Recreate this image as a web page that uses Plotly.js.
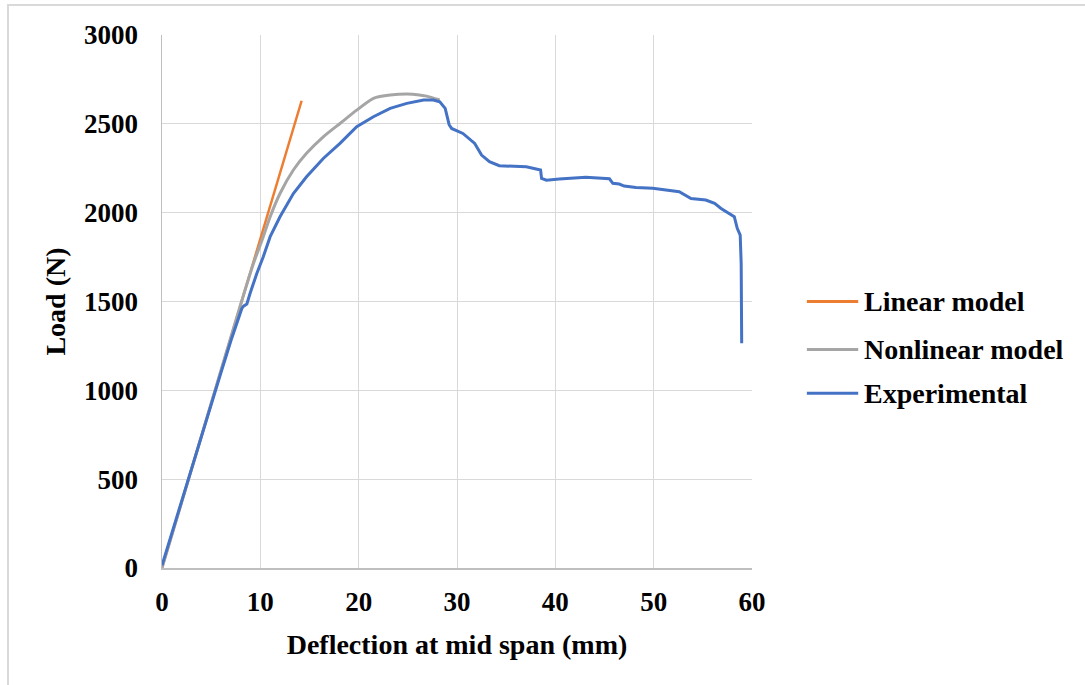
<!DOCTYPE html>
<html>
<head>
<meta charset="utf-8">
<script src="https://cdn.plot.ly/plotly-3.0.1.min.js"></script>
<style>
  html, body { margin: 0; padding: 0; background: #fff; }
  #chart { width: 1085px; height: 685px; }
  #frame { position: absolute; left: 7px; top: 4px; width: 1200px; height: 800px;
           border-left: 2px solid #d9d9d9; border-top: 2px solid #d9d9d9; pointer-events: none; z-index: 10; }
</style>
</head>
<body>
<div id="frame"></div>
<div id="chart"></div>
<script>
// Linear model
const linX = [0, 14.2];
const linY = [0, 2630];

// Nonlinear model
const nlX = [0, 4, 7.95, 9.3, 10.3, 11.0, 12.0, 13.36, 14.7, 16.4, 18.1, 19.8, 21.5, 23.2, 25.5, 26.9, 28.25];
const nlY = [0, 740, 1475, 1714, 1865, 1977, 2108, 2240, 2334, 2427, 2502, 2577, 2643, 2662, 2667, 2656, 2634];

// Experimental
const expX = [0, 2, 4, 6, 7.1, 8.12, 8.29, 8.63, 8.96, 9.64, 10.3, 11.0, 12.0, 13.36, 14.7, 16.4, 18.1, 19.8, 21.5, 23.2, 24.9, 26.6, 27.6, 28.25, 28.8, 29.0, 29.2, 29.45, 30.6, 31.8, 32.5, 33.3, 34.3, 37.05, 37.9, 38.5, 38.6, 39.1, 40.4, 43.1, 45.5, 45.85, 46.5, 47.0, 48.2, 49.9, 52.6, 53.8, 55.3, 56.2, 56.85, 57.7, 58.2, 58.5, 58.8, 58.9, 58.95, 58.95];
const expY = [15, 380, 740, 1100, 1295, 1461, 1474, 1486, 1546, 1658, 1752, 1865, 1977, 2108, 2202, 2305, 2390, 2484, 2540, 2587, 2615, 2634, 2634, 2624, 2587, 2530, 2495, 2474, 2446, 2390, 2324, 2287, 2264, 2258, 2249, 2240, 2193, 2183, 2189, 2199, 2191, 2165, 2161, 2150, 2142, 2137, 2118, 2080, 2071, 2052, 2024, 1992, 1977, 1912, 1874, 1715, 1527, 1265];

const xTicks = [0, 10, 20, 30, 40, 50, 60];
const yTicks = [0, 500, 1000, 1500, 2000, 2500, 3000];
const seriesNames = ['Linear model', 'Nonlinear model', 'Experimental'];
const colors = ['#ED7D31', '#A5A5A5', '#4472C4'];

const FONT = '"Liberation Serif", "Times New Roman", serif';

const traces = [
  {x: linX, y: linY, mode: 'lines', name: seriesNames[0], line: {color: colors[0], width: 2.5}},
  {x: nlX, y: nlY, mode: 'lines', name: seriesNames[1], line: {color: colors[1], width: 3, shape: 'spline', smoothing: 0.6}},
  {x: expX, y: expY, mode: 'lines', name: seriesNames[2], line: {color: colors[2], width: 3}}
];

// manual legend (line sample + label)
const legendY = [0.500, 0.410, 0.328];
const shapes = [];
const annotations = [];
seriesNames.forEach((n, i) => {
  shapes.push({type: 'line', xref: 'paper', yref: 'paper', x0: 1.093, x1: 1.18, y0: legendY[i], y1: legendY[i],
               line: {color: colors[i], width: 3}});
  annotations.push({xref: 'paper', yref: 'paper', x: 1.186, y: legendY[i], text: '<b>' + n + '</b>', showarrow: false,
                    xanchor: 'left', yanchor: 'middle', font: {family: FONT, size: 28, color: '#000'}});
});

const layout = {
  width: 1085, height: 685,
  margin: {l: 162, r: 333, t: 35, b: 117},
  paper_bgcolor: '#fff', plot_bgcolor: '#fff',
  showlegend: false,
  font: {family: FONT, size: 27, color: '#000'},
  xaxis: {
    range: [0, 60], tickvals: xTicks, ticktext: xTicks.map(v => '<b>' + v + '</b>'),
    showgrid: true, gridcolor: '#d9d9d9', gridwidth: 1,
    showline: true, linecolor: '#bfbfbf', linewidth: 1.5,
    zeroline: false, ticks: '', ticklabelstandoff: 9,
    title: {text: '<b>Deflection at mid span (mm)</b>', font: {family: FONT, size: 28}, standoff: 18}
  },
  yaxis: {
    range: [0, 3000], tickvals: yTicks, ticktext: yTicks.map(v => '<b>' + v + '</b>'),
    showgrid: true, gridcolor: '#d9d9d9', gridwidth: 1,
    showline: true, linecolor: '#bfbfbf', linewidth: 1.5,
    zeroline: false, ticks: '', ticklabelstandoff: 17,
    title: {text: '<b>Load (N)</b>', font: {family: FONT, size: 28}, standoff: 10}
  },
  shapes: shapes,
  annotations: annotations
};

Plotly.newPlot('chart', traces, layout, {displayModeBar: false, staticPlot: true});
</script>
</body>
</html>
